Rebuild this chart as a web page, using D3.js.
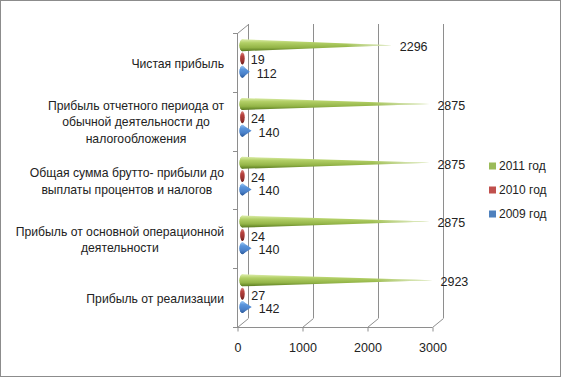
<!DOCTYPE html>
<html>
<head>
<meta charset="utf-8">
<script src="https://cdn.jsdelivr.net/npm/d3@7"></script>
<style>
  body { margin: 0; background: #fff; }
  text { font-family: "Liberation Sans", Arial, sans-serif; fill: #222; }
</style>
</head>
<body>
<div id="chart"></div>
<script>
// --- Datos ---
const categories = [
    ["Чистая прибыль"],
    ["Прибыль отчетного периода от", "обычной деятельности до", "налогообложения"],
    ["Общая сумма брутто- прибыли до", "выплаты процентов и налогов"],
    ["Прибыль от основной операционной", "деятельности"],
    ["Прибыль от реализации"]
];
const seriesNames = ["2011 год", "2010 год", "2009 год"];
const values2011 = [2296, 2875, 2875, 2875, 2923];
const values2010 = [19, 24, 24, 24, 27];
const values2009 = [112, 140, 140, 140, 142];
const xTicks = [0, 1000, 2000, 3000];

const seriesValues = [values2011, values2010, values2009];
const catKeys = categories.map(c => c.join(" "));

// --- SVG ---
const width = 562, height = 378;
const svg = d3.select("#chart").append("svg")
    .attr("width", width)
    .attr("height", height);

svg.append("rect")
    .attr("x", 0.5).attr("y", 0.5)
    .attr("width", width - 2).attr("height", height - 2)
    .attr("fill", "#fff")
    .attr("stroke", "#8c8c8c");

// --- Escalas (plano frontal) ---
const x = d3.scaleLinear().domain([0, 3000]).range([237, 432]);
const y = d3.scaleBand().domain(catKeys).range([33, 327]);
const ySeries = d3.scaleBand().domain(seriesNames).range([10, 50]);
const depthX = 11, depthY = -9;
const bottomY = 327;

const gridColor = "#8e8e8e";
const frame = svg.append("g")
    .attr("stroke", gridColor)
    .attr("stroke-width", 1)
    .attr("fill", "none");

// pared trasera: lineas verticales
frame.selectAll("line.grid")
    .data(xTicks)
    .enter().append("line")
    .attr("class", "grid")
    .attr("x1", d => Math.round(x(d) + depthX) + 0.5)
    .attr("x2", d => Math.round(x(d) + depthX) + 0.5)
    .attr("y1", 33 + depthY)
    .attr("y2", bottomY + depthY);

// suelo: diagonales
frame.selectAll("line.floor")
    .data(xTicks)
    .enter().append("line")
    .attr("class", "floor")
    .attr("x1", d => x(d) + 0.5)
    .attr("y1", bottomY + 0.5)
    .attr("x2", d => x(d) + depthX + 0.5)
    .attr("y2", bottomY + depthY + 0.5);

// borde frontal del suelo
frame.append("line")
    .attr("x1", x(0)).attr("x2", x(3000) + 0.5)
    .attr("y1", bottomY + 0.5).attr("y2", bottomY + 0.5);

// pared lateral: borde frontal y diagonal superior
frame.append("line")
    .attr("x1", x(0) + 0.5).attr("x2", x(0) + 0.5)
    .attr("y1", 33).attr("y2", bottomY);
frame.append("line")
    .attr("x1", x(0) + 0.5).attr("y1", 33 + 0.5)
    .attr("x2", x(0) + depthX + 0.5).attr("y2", 33 + depthY + 0.5);

// marcas del eje de categorias
const catBounds = catKeys.map(k => y(k)).concat([y.range()[1]]);
frame.selectAll("line.ytick")
    .data(catBounds)
    .enter().append("line")
    .attr("x1", x(0) - 4).attr("x2", x(0))
    .attr("y1", d => Math.round(d) + 0.5)
    .attr("y2", d => Math.round(d) + 0.5);

// eje X
const xAxis = svg.append("g")
    .attr("transform", `translate(0.5,${bottomY + 0.5})`)
    .call(d3.axisBottom(x).tickValues(xTicks).tickSize(4).tickPadding(12).tickFormat(d3.format("d")));
xAxis.select(".domain").remove();
xAxis.selectAll("line").attr("stroke", gridColor);
xAxis.selectAll("text")
    .style("font-family", "'Liberation Sans', Arial, sans-serif")
    .style("font-size", "12.5px")
    .attr("fill", "#222");

// --- Etiquetas de categorias ---
const labelRight = 224, lineH = 16.5;
categories.forEach((lines, i) => {
    const cy = y(catKeys[i]) + y.bandwidth() / 2 + 1;
    const g = svg.append("g");
    const texts = g.selectAll("text")
        .data(lines)
        .enter().append("text")
        .attr("y", (d, j) => cy + (j - (lines.length - 1) / 2) * lineH)
        .attr("dy", "0.35em")
        .attr("text-anchor", "middle")
        .style("font-size", "12.2px")
        .text(d => d);
    const widest = d3.max(texts.nodes(), n => n.getComputedTextLength());
    texts.attr("x", labelRight - widest / 2);
});

// --- Gradientes ---
const defs = svg.append("defs");
const palette = [
    { legend: "#9bbb59", stops: ["#dcedaa", "#b2cf66", "#93b447", "#587a1f"] },
    { legend: "#c0504d", stops: ["#d98582", "#b8423e", "#9a3331", "#6a1f1d"] },
    { legend: "#4f81bd", stops: ["#9cc8f4", "#5a95dc", "#4a80c8", "#2b5a9a"] }
];
palette.forEach((p, i) => {
    const lg = defs.append("linearGradient")
        .attr("id", "cone" + i)
        .attr("x1", 0).attr("y1", 0).attr("x2", 0).attr("y2", 1);
    [0, 30, 70, 100].forEach((o, k) => {
        lg.append("stop").attr("offset", o + "%").attr("stop-color", p.stops[k]);
    });
});
const fade = defs.append("linearGradient")
    .attr("id", "fade")
    .attr("x1", 0).attr("y1", 0).attr("x2", 1).attr("y2", 0);
fade.append("stop").attr("offset", "0%").attr("stop-color", "#fff").attr("stop-opacity", 0);
fade.append("stop").attr("offset", "70%").attr("stop-color", "#fff").attr("stop-opacity", 0);
fade.append("stop").attr("offset", "100%").attr("stop-color", "#f4f9e4").attr("stop-opacity", 0.85);

// --- Conos ---
const midX = v => x(v) + depthX / 2;
const coneR = 6;
const cones = [];
categories.forEach((c, i) => {
    seriesNames.forEach((s, si) => {
        cones.push({
            cat: catKeys[i],
            series: si,
            value: seriesValues[si][i],
            cy: y(catKeys[i]) + depthY / 2 + ySeries(s) + ySeries.bandwidth() / 2
        });
    });
});

const coneG = svg.append("g");
cones.forEach(d => {
    const x0 = midX(0), xt = midX(d.value);
    const rx = d.series === 1 ? 2.2 : 3;
    const path = `M${x0},${d.cy - coneR} L${Math.max(xt, x0 + 1)},${d.cy} L${x0},${d.cy + coneR}` +
        ` A${rx},${coneR} 0 0 1 ${x0},${d.cy - coneR} Z`;
    coneG.append("path")
        .attr("d", path)
        .attr("fill", `url(#cone${d.series})`);
    if (d.series === 0) {
        coneG.append("path")
            .attr("d", path)
            .attr("fill", "url(#fade)");
    }
    coneG.append("ellipse")
        .attr("cx", x0)
        .attr("cy", d.cy)
        .attr("rx", rx)
        .attr("ry", coneR)
        .attr("fill", `url(#cone${d.series})`);
});

// --- Etiquetas de valores ---
svg.append("g").selectAll("text")
    .data(cones)
    .enter().append("text")
    .attr("x", d => midX(d.value) + (d.series === 0 ? 8 : 7))
    .attr("y", d => d.cy + 1.5)
    .attr("dy", "0.35em")
    .style("font-size", "12.5px")
    .text(d => d.value);

// --- Leyenda ---
const legend = svg.append("g");
const legendY = d3.scalePoint().domain(seriesNames).range([166, 214]);
seriesNames.forEach((s, i) => {
    legend.append("rect")
        .attr("x", 489).attr("y", legendY(s) - 3.5)
        .attr("width", 7).attr("height", 7)
        .attr("fill", palette[i].legend);
    legend.append("text")
        .attr("x", 499).attr("y", legendY(s))
        .attr("dy", "0.35em")
        .style("font-size", "12px")
        .text(s);
});
</script>
</body>
</html>
